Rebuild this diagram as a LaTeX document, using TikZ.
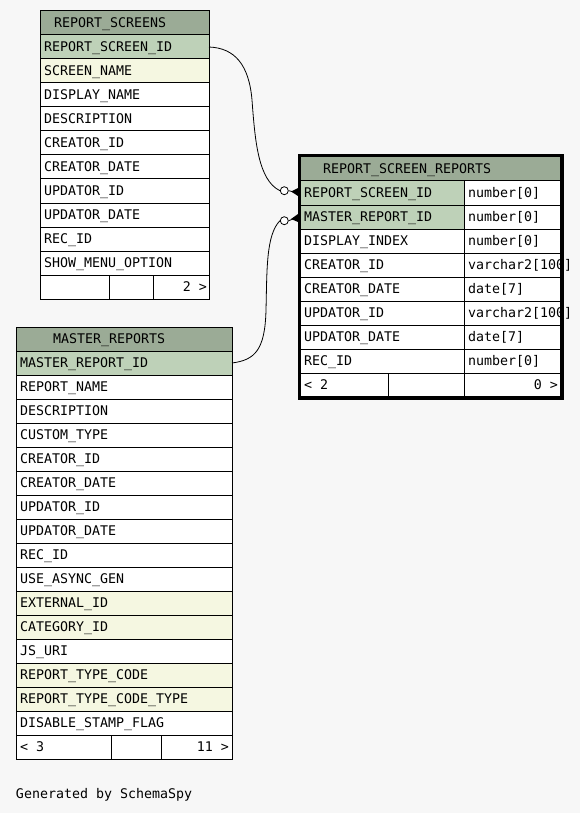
\documentclass[tikz,border=0pt]{standalone}
\usepackage{fontspec}
\setmonofont{DejaVu Sans Mono}
\usetikzlibrary{calc}
\definecolor{hdr}{HTML}{9BAB96}
\definecolor{pk}{HTML}{BED1B8}
\definecolor{idx}{HTML}{F5F7E1}
\definecolor{bg}{HTML}{F7F7F7}
\begin{document}
\begin{tikzpicture}[x=1pt,y=-1pt,
  cell/.style={draw=black, line width=1pt, minimum height=24pt, inner sep=0pt, outer sep=0pt, anchor=north west},
  lbl/.style={inner sep=0pt, outer sep=0pt, anchor=base west, font=\ttfamily\fontsize{13.3}{16}\selectfont},
  lblr/.style={lbl, anchor=base east},
  conn/.style={draw=black, line width=0.8pt},
  odotmark/.style={circle, draw=black, fill=white, line width=0.8pt, minimum size=8pt, inner sep=0pt},
  crow/.style={fill=black}]
\useasboundingbox (0,0) rectangle (580,813);
\fill[bg] (0,0) rectangle (580,813);

% ---------------- REPORT_SCREENS ----------------
\node[cell, minimum width=169pt, fill=hdr] (rs-head) at (40,11) {};
\node[lbl] (rs-head-t) at (54,27.5) {REPORT\_SCREENS};
\foreach \i/\n/\t/\f in {
  0/id/REPORT\_SCREEN\_ID/pk,
  1/sname/SCREEN\_NAME/idx,
  2/dname/DISPLAY\_NAME/white,
  3/desc/DESCRIPTION/white,
  4/cid/CREATOR\_ID/white,
  5/cdate/CREATOR\_DATE/white,
  6/uid/UPDATOR\_ID/white,
  7/udate/UPDATOR\_DATE/white,
  8/rec/REC\_ID/white,
  9/smo/SHOW\_MENU\_OPTION/white}{
  \node[cell, minimum width=169pt, fill=\f] (rs-\n) at (40,{35+24*\i}) {};
  \node[lbl] (rs-\n-t) at ([xshift=4pt,yshift=-4.5pt]rs-\n.west) {\t};
}
\node[cell, minimum width=69pt, fill=white] (rs-f1) at (40,275) {};
\node[cell, minimum width=44pt, fill=white] (rs-f2) at (109,275) {};
\node[cell, minimum width=56pt, fill=white] (rs-f3) at (153,275) {};
\node[lblr] (rs-f3-t) at (207,291.5) {2 >};

% ---------------- MASTER_REPORTS ----------------
\node[cell, minimum width=216pt, fill=hdr] (mr-head) at (16,327) {};
\node[lbl] (mr-head-t) at (53,343.5) {MASTER\_REPORTS};
\foreach \i/\n/\t/\f in {
  0/id/MASTER\_REPORT\_ID/pk,
  1/rname/REPORT\_NAME/white,
  2/desc/DESCRIPTION/white,
  3/ctype/CUSTOM\_TYPE/white,
  4/cid/CREATOR\_ID/white,
  5/cdate/CREATOR\_DATE/white,
  6/uid/UPDATOR\_ID/white,
  7/udate/UPDATOR\_DATE/white,
  8/rec/REC\_ID/white,
  9/async/USE\_ASYNC\_GEN/white,
  10/ext/EXTERNAL\_ID/idx,
  11/cat/CATEGORY\_ID/idx,
  12/js/JS\_URI/white,
  13/rtc/REPORT\_TYPE\_CODE/idx,
  14/rtct/REPORT\_TYPE\_CODE\_TYPE/idx,
  15/dsf/DISABLE\_STAMP\_FLAG/white}{
  \node[cell, minimum width=216pt, fill=\f] (mr-\n) at (16,{351+24*\i}) {};
  \node[lbl] (mr-\n-t) at ([xshift=4pt,yshift=-4.5pt]mr-\n.west) {\t};
}
\node[cell, minimum width=95pt, fill=white] (mr-f1) at (16,735) {};
\node[cell, minimum width=50pt, fill=white] (mr-f2) at (111,735) {};
\node[cell, minimum width=71pt, fill=white] (mr-f3) at (161,735) {};
\node[lbl] (mr-f1-t) at (20,751.5) {< 3};
\node[lblr] (mr-f3-t) at (229,751.5) {11 >};

% ---------------- REPORT_SCREEN_REPORTS ----------------
\node[cell, minimum width=261pt, fill=hdr] (rsr-head) at (300,157) {};
\node[lbl] (rsr-head-t) at (323,173.5) {REPORT\_SCREEN\_REPORTS};
\foreach \i/\n/\t/\ty/\f in {
  0/rsid/REPORT\_SCREEN\_ID/number[0]/pk,
  1/mrid/MASTER\_REPORT\_ID/number[0]/pk,
  2/dindex/DISPLAY\_INDEX/number[0]/white,
  3/cid/CREATOR\_ID/varchar2[100]/white,
  4/cdate/CREATOR\_DATE/date[7]/white,
  5/uid/UPDATOR\_ID/varchar2[100]/white,
  6/udate/UPDATOR\_DATE/date[7]/white,
  7/rec/REC\_ID/number[0]/white}{
  \node[cell, minimum width=164pt, fill=\f] (rsr-\n) at (300,{181+24*\i}) {};
  \node[cell, minimum width=97pt, fill=white] (rsr-\n-ty) at (464,{181+24*\i}) {};
  \node[lbl] (rsr-\n-t) at ([xshift=4pt,yshift=-4.5pt]rsr-\n.west) {\t};
  \node[lbl] (rsr-\n-tyt) at ([xshift=4pt,yshift=-4.5pt]rsr-\n-ty.west) {\ty};
}
\node[cell, minimum width=88pt, fill=white] (rsr-f1) at (300,373) {};
\node[cell, minimum width=76pt, fill=white] (rsr-f2) at (388,373) {};
\node[cell, minimum width=97pt, fill=white] (rsr-f3) at (464,373) {};
\node[lbl] (rsr-f1-t) at (304,389.5) {< 2};
\node[lblr] (rsr-f3-t) at (558,389.5) {0 >};
\draw[line width=3.5pt] (299.5,155.5) rectangle (562,398);

% ---------------- connectors ----------------
\node[odotmark] (c1) at (284.3,190.7) {};
\node[odotmark] (c2) at (284.3,220.7) {};
\coordinate (k1) at (252,100);
\coordinate (k2) at (266,310);
\draw[conn] (rs-id.east) .. controls (235,48) and (249,65) .. (k1)
  .. controls (255,140) and (258,180) .. (c1.west);
\draw[conn] (mr-id.east) .. controls (255,360) and (265,350) .. (k2)
  .. controls (267,270) and (266,235) .. (c2.west);
\draw[conn] (c1.east) -- ([xshift=-2pt]rsr-rsid.west);
\draw[conn] (c2.east) -- ([xshift=-2pt]rsr-mrid.west);
\fill[crow] ($(rsr-rsid.west)+(-9,-1.5)$) -- ($(rsr-rsid.west)+(-2,-5)$) -- ($(rsr-rsid.west)+(-2,3)$) -- cycle;
\fill[crow] ($(rsr-mrid.west)+(-9,2)$) -- ($(rsr-mrid.west)+(-2,-3)$) -- ($(rsr-mrid.west)+(-2,5)$) -- cycle;

\node[lbl] (gen) at (16,798) {Generated by SchemaSpy};
\end{tikzpicture}
\end{document}
